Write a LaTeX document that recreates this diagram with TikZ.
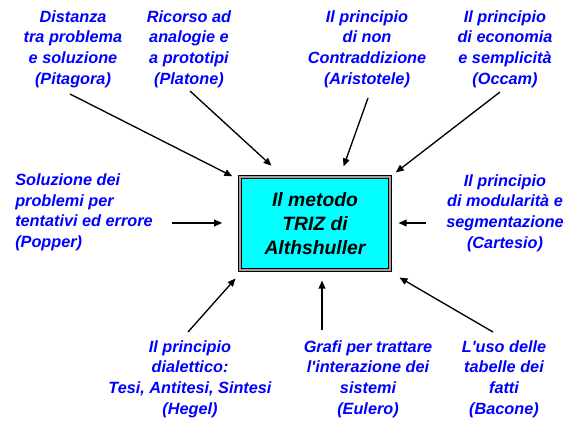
\documentclass[tikz,border=0pt]{standalone}
\usepackage{fontspec}
\setmainfont{Liberation Sans}
\usetikzlibrary{arrows.meta}
\definecolor{boxgray}{RGB}{160,160,160}
\definecolor{boxcyan}{RGB}{0,255,255}
\definecolor{ideablue}{RGB}{0,0,255}
\tikzset{
    idea/.style={text=ideablue, font=\bfseries\itshape\fontsize{12.2}{15.4}\selectfont, align=center, inner sep=0pt},
    metodo/.style={rectangle, draw, line width=0.75pt, double=boxgray, double distance=1.5pt, fill=boxcyan,
        minimum width=112.5pt, minimum height=69.75pt, align=center, font=\bfseries\itshape\fontsize{14.5}{18}\selectfont},
    freccia/.style={->, line width=1pt}
}

\begin{document}
\begin{tikzpicture}[x=0.75pt, y=-0.75pt, >={Triangle[length=6pt, width=5pt]}]
    \useasboundingbox (0,0) rectangle (581,426);

        % Vertices
        \node[metodo](triz) at (315,223.5){Il metodo\\TRIZ di\\Althshuller};
        \node[idea](pitagora) at (73,49){Distanza\\tra problema\\e soluzione\\(Pitagora)};
        \node[idea](platone) at (189,49){Ricorso ad\\analogie e\\a prototipi\\(Platone)};
        \node[idea](aristotele) at (367,49){Il principio\\di non\\Contraddizione\\(Aristotele)};
        \node[idea](occam) at (505,49){Il principio\\di economia\\e semplicità\\(Occam)};
        \node[idea, align=left, anchor=west](popper) at (15,212.5){Soluzione dei\\problemi per\\tentativi ed errore\\(Popper)};
        \node[idea](cartesio) at (505,213){Il principio\\di modularità e\\segmentazione\\(Cartesio)};
        \node[idea](hegel) at (190,379){Il principio\\dialettico:\\Tesi, Antitesi, Sintesi\\(Hegel)};
        \node[idea](eulero) at (368,379){Grafi per trattare\\l\textquotesingle interazione dei\\sistemi\\(Eulero)};
        \node[idea](bacone) at (504,379){L\textquotesingle uso delle\\tabelle dei\\fatti\\(Bacone)};
        % Edges
        \coordinate (pitagoraS) at (70,94);
        \coordinate (platoneS) at (190,91);
        \coordinate (aristoteleS) at (368,98);
        \coordinate (occamS) at (500,92);
        \coordinate (popperS) at (172,223);
        \coordinate (cartesioS) at (426,223);
        \coordinate (hegelS) at (188,332);
        \coordinate (euleroS) at (322,330);
        \coordinate (baconeS) at (493,332);
        \draw[freccia, shorten >=6pt](pitagoraS) -- (triz.150);
        \draw[freccia, shorten >=12pt](platoneS) -- (triz.124);
        \draw[freccia, shorten >=8pt](aristoteleS) -- (triz.62);
        \draw[freccia, shorten >=5pt](occamS) -- (triz.north east);
        \draw[freccia, shorten >=13pt](popperS) -- (popperS -| triz.west);
        \draw[freccia, shorten >=6pt](cartesioS) -- (cartesioS -| triz.east);
        \draw[freccia, shorten >=8pt](hegelS) -- (triz.213);
        \draw[freccia, shorten >=7.5pt](euleroS) -- (euleroS |- triz.south);
        \draw[freccia, shorten >=10.5pt](baconeS) -- (triz.327);

\end{tikzpicture}
\end{document}
